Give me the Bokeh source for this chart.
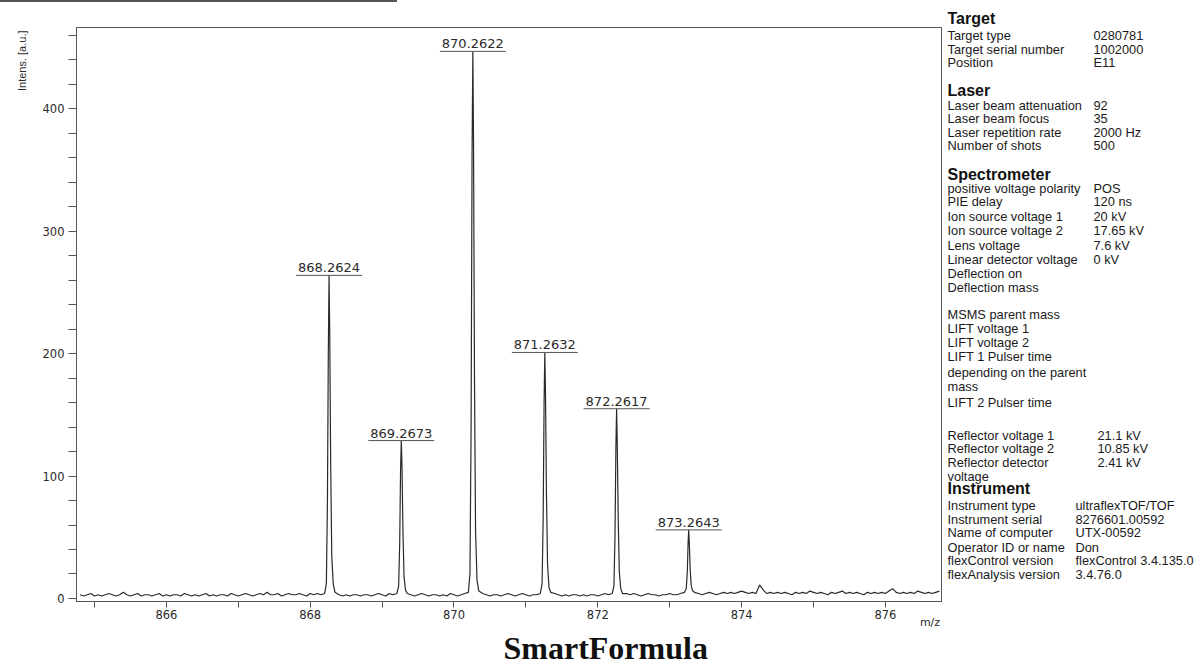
import numpy as np
from bokeh.plotting import figure
from bokeh.models import Title, Range1d, FixedTicker, LinearAxis, Div, ColumnDataSource
from bokeh.layouts import row, column
from bokeh.embed import file_html
from bokeh.resources import INLINE
from bokeh.core.properties import value

# ---------------- data ----------------
peak_mz = [868.2624, 869.2673, 870.2622, 871.2632, 872.2617, 873.2643]
peak_int = [264, 129, 447, 201, 155, 56]
peak_labels = ["868.2624", "869.2673", "870.2622", "871.2632", "872.2617", "873.2643"]

# peak profiles (m/z, intensity)
profile_mz = [
    868.200, 868.225, 868.240, 868.252, 868.2624, 868.272, 868.285, 868.300, 868.320, 868.345,
    869.205, 869.230, 869.245, 869.257, 869.2673, 869.277, 869.290, 869.305, 869.325, 869.350,
    870.200, 870.222, 870.238, 870.251, 870.2622, 870.272, 870.285, 870.300, 870.320, 870.345,
    871.200, 871.225, 871.240, 871.253, 871.2632, 871.273, 871.286, 871.301, 871.321, 871.346,
    872.200, 872.224, 872.239, 872.252, 872.2617, 872.271, 872.284, 872.299, 872.319, 872.344,
    873.205, 873.230, 873.245, 873.256, 873.2643, 873.273, 873.286, 873.300, 873.320, 873.345,
]
profile_int = [
    4, 12, 80, 200, 264, 215, 110, 35, 12, 5,
    4, 10, 45, 105, 129, 108, 55, 18, 7, 4,
    5, 20, 140, 360, 447, 370, 180, 55, 15, 6,
    4, 12, 65, 160, 201, 165, 85, 28, 9, 5,
    4, 10, 50, 125, 155, 125, 65, 22, 8, 4,
    5, 8, 22, 46, 56, 45, 22, 10, 6, 5,
]

# baseline noise, one row per unit of m/z starting at the given m/z, step 0.05
noise_start = [864.80, 865.80, 866.80, 867.80, 868.80, 869.80,
               870.80, 871.80, 872.80, 873.80, 874.80, 875.80]
noise_rows = [
    [3, 2, 3, 4, 2, 3, 2, 3, 4, 3, 2, 3, 5, 3, 2, 3, 4, 2, 3, 3],
    [2, 3, 4, 2, 3, 2, 3, 3, 2, 4, 3, 2, 3, 2, 3, 4, 2, 3, 2, 3],
    [3, 2, 4, 3, 2, 3, 4, 3, 2, 3, 4, 3, 5, 3, 3, 4, 2, 3, 4, 3],
    [3, 4, 3, 2, 4, 3, 4, 3, 5, 4, 6, 5, 3, 2, 3, 2, 3, 3, 2, 3],
    [3, 2, 3, 4, 3, 2, 4, 3, 5, 4, 3, 2, 3, 2, 3, 4, 3, 2, 3, 3],
    [2, 3, 2, 4, 3, 2, 3, 4, 3, 5, 4, 3, 4, 3, 2, 3, 3, 2, 3, 4],
    [3, 2, 3, 4, 3, 2, 3, 3, 4, 5, 4, 3, 4, 3, 2, 3, 2, 3, 3, 2],
    [3, 2, 3, 3, 2, 3, 4, 3, 4, 5, 4, 3, 4, 3, 4, 3, 2, 3, 4, 3],
    [3, 2, 3, 3, 4, 3, 3, 4, 3, 5, 6, 5, 4, 3, 4, 5, 4, 3, 4, 5],
    [4, 5, 4, 5, 6, 5, 4, 5, 4, 11, 7, 4, 5, 4, 5, 4, 5, 4, 3, 5],
    [4, 5, 4, 6, 5, 4, 5, 4, 3, 5, 4, 5, 6, 4, 5, 4, 5, 4, 3, 5],
    [4, 5, 4, 5, 4, 6, 8, 5, 4, 5, 4, 5, 4, 6, 5, 4, 5, 4, 5, 6],
]

x_ticks = [866, 868, 870, 872, 874, 876]
x_minor = [865, 867, 869, 871, 873, 875]
y_ticks = [0, 100, 200, 300, 400]
y_minor = [20, 40, 60, 80, 120, 140, 160, 180, 220, 240, 260, 280,
           320, 340, 360, 380, 420, 440, 460]

# info panel: section headers and rows (label, value)
head_text = ["Laser", "Spectrometer", "Instrument"]
head_y = [90, 173.5, 488]
row_label = [
    "Target type", "Target serial number", "Position",
    "Laser beam attenuation", "Laser beam focus", "Laser repetition rate", "Number of shots",
    "positive voltage polarity", "PIE delay", "Ion source voltage 1", "Ion source voltage 2",
    "Lens voltage", "Linear detector voltage", "Deflection on", "Deflection mass",
    "MSMS parent mass", "LIFT voltage 1", "LIFT voltage 2", "LIFT 1 Pulser time",
    "depending on the parent", "mass", "LIFT 2 Pulser time",
    "Reflector voltage 1", "Reflector voltage 2", "Reflector detector", "voltage",
    "Instrument type", "Instrument serial", "Name of computer", "Operator ID or name",
    "flexControl version", "flexAnalysis version",
]
row_value = [
    "0280781", "1002000", "E11",
    "92", "35", "2000 Hz", "500",
    "POS", "120 ns", "20 kV", "17.65 kV", "7.6 kV", "0 kV", "", "",
    "", "", "", "", "", "", "",
    "21.1 kV", "10.85 kV", "2.41 kV", "",
    "ultraflexTOF/TOF", "8276601.00592", "UTX-00592", "Don",
    "flexControl 3.4.135.0", "3.4.76.0",
]
row_y = [
    35, 48.5, 62,
    105, 118, 132, 145,
    188, 201, 215.5, 230, 244.5, 258.5, 272.5, 286.5,
    314, 328, 342, 356, 371.5, 386, 401.5,
    435, 448, 461.5, 476,
    505, 518.5, 532, 546.5, 560, 574,
]
row_value_x = [1093] * 15 + [1093] * 7 + [1097] * 4 + [1075] * 6

# ---------------- build trace ----------------
noise_mz, noise_int = [], []
for start, vals in zip(noise_start, noise_rows):
    for i, v in enumerate(vals):
        m = round(start + 0.05 * i, 3)
        if any(pk - 0.07 <= m <= pk + 0.09 for pk in peak_mz):
            continue
        noise_mz.append(m)
        noise_int.append(v)
trace_mz = np.array(noise_mz + profile_mz)
trace_int = np.array(noise_int + profile_int)
order = np.argsort(trace_mz)
trace_mz, trace_int = trace_mz[order], trace_int[order]

# ---------------- main figure ----------------
INK = "#2a2a2a"
BAR_H = 2
MAIN_W = 943
H = 666 - BAR_H
FRAME_TOP, FRAME_BOTTOM = 27, 601
p = figure(width=MAIN_W, height=H, output_backend="svg", toolbar_location=None,
           x_range=Range1d(864.75, 876.78), y_range=Range1d(-2.5, 466.5),
           min_border_left=76, min_border_right=2, min_border_top=FRAME_TOP - BAR_H,
           min_border_bottom=666 - FRAME_BOTTOM)
p.background_fill_color = "white"
p.border_fill_color = "white"
p.outline_line_color = "#555555"
p.outline_line_width = 1
p.xgrid.visible = False
p.ygrid.visible = False

for ax in (p.xaxis[0], p.yaxis[0]):
    ax.axis_line_color = "#555555"
    ax.major_tick_line_color = "#555555"
    ax.minor_tick_line_color = "#555555"
    ax.major_label_text_font = "DejaVu Sans"
    ax.major_label_text_font_size = "11.5px"
    ax.major_label_text_color = INK
    ax.major_tick_in = 0
    ax.minor_tick_in = 0
    ax.major_label_standoff = 4

p.xaxis.ticker = FixedTicker(ticks=x_ticks, minor_ticks=x_minor)
p.yaxis.ticker = FixedTicker(ticks=y_ticks, minor_ticks=y_minor)
p.xaxis.major_tick_out = 6
p.xaxis.minor_tick_out = 6
p.xaxis.major_label_standoff = 2
p.yaxis.major_tick_out = 8
p.yaxis.minor_tick_out = 8

# second bottom axis that only carries the "m/z" unit text
unit_axis = LinearAxis(ticker=FixedTicker(ticks=[876.62]),
                       major_label_overrides={876.62: "m/z"},
                       axis_line_alpha=0, major_tick_out=0, major_tick_in=0,
                       minor_tick_out=0, minor_tick_in=0,
                       major_label_standoff=-6,
                       major_label_text_font="DejaVu Sans",
                       major_label_text_font_size="11px",
                       major_label_text_color=INK)
p.add_layout(unit_axis, "below")

p.add_layout(Title(text="SmartFormula", align="left", offset=503 - 76, standoff=-7,
                   text_font="Liberation Serif", text_font_style="bold",
                   text_font_size="32px", text_color="#111111"), "below")
p.add_layout(Title(text="Intens. [a.u.]", align="right", offset=3, standoff=24,
                   text_font="Liberation Sans", text_font_style="normal",
                   text_font_size="11px", text_color=INK), "left")

p.line(trace_mz, trace_int, line_color=INK, line_width=1.2)

# peak annotations
p.scatter(peak_mz, peak_int, marker="dash", size=66, line_color="#555555", line_width=1)
p.text(peak_mz, peak_int, text=peak_labels, y_offset=-3, text_align="center",
       text_baseline="bottom", text_font=value("DejaVu Sans"), text_font_size="13px",
       text_color=INK)

# ---------------- info panel ----------------
# its frame is aligned with the main frame (rows align plot frames), so the
# y range is given in page pixels from FRAME_TOP to FRAME_BOTTOM
PANEL_W = 1198 - MAIN_W
q = figure(width=PANEL_W, height=H, output_backend="svg", toolbar_location=None,
           x_range=Range1d(MAIN_W, 1198), y_range=Range1d(FRAME_BOTTOM, FRAME_TOP),
           min_border_left=0, min_border_right=0, min_border_top=FRAME_TOP - BAR_H,
           min_border_bottom=666 - FRAME_BOTTOM, outline_line_color=None)
q.axis.visible = False
q.grid.visible = False
q.border_fill_color = "white"
q.add_layout(Title(text="Target", align="left", offset=4, standoff=1,
                   text_font="Liberation Sans", text_font_style="bold",
                   text_font_size="16px", text_color="#111111"), "above")

q.text(x=[947] * len(head_text), y=head_y, text=head_text, text_align="left",
       text_baseline="middle", text_font=value("Liberation Sans"),
       text_font_style="bold", text_font_size="16px", text_color="#111111")
q.text(x=[947] * len(row_label), y=row_y, text=row_label, text_align="left",
       text_baseline="middle", text_font=value("Liberation Sans"),
       text_font_size="12.8px", text_color="#1a1a1a")
vsrc = ColumnDataSource(dict(x=[x for x, v in zip(row_value_x, row_value) if v],
                             y=[y for y, v in zip(row_y, row_value) if v],
                             t=[v for v in row_value if v]))
q.text(x="x", y="y", text="t", source=vsrc, text_align="left", text_baseline="middle",
       text_font=value("Liberation Sans"), text_font_size="12.8px", text_color="#1a1a1a")

bar = Div(text="", width=397, height=BAR_H, margin=(0, 0, 0, 0),
          styles={"background-color": "#555555"})

layout = column(bar, row(p, q, spacing=0), spacing=0)
open("out.html", "w").write(file_html(layout, INLINE))
